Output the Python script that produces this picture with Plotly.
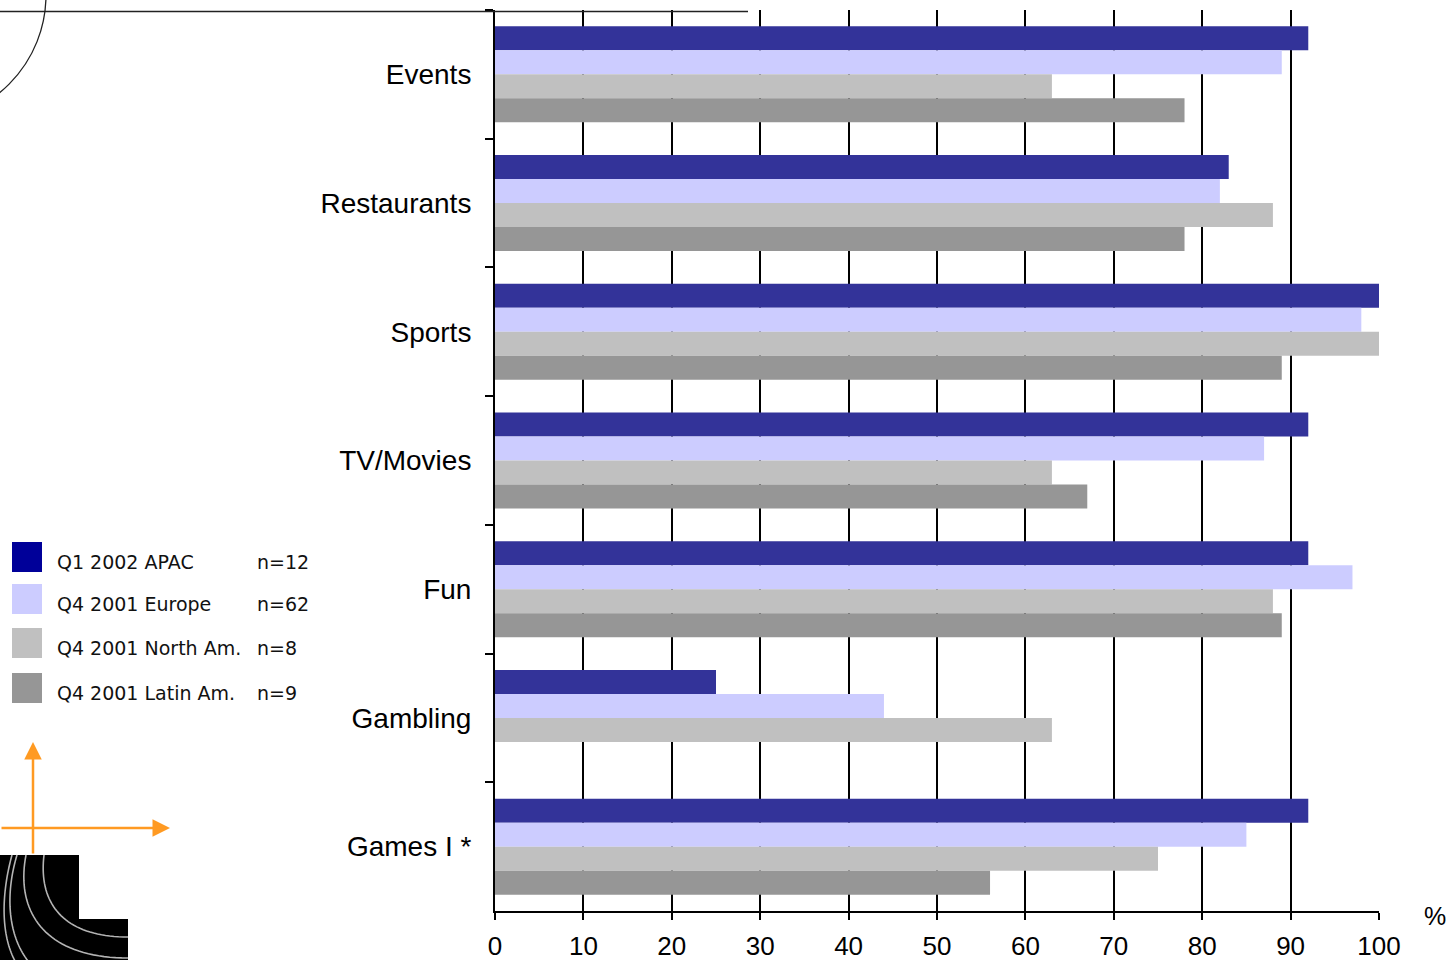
import numpy as np
import plotly.graph_objects as go

# ---- data -------------------------------------------------------------
categories = ["Events", "Restaurants", "Sports", "TV/Movies", "Fun", "Gambling", "Games I *"]

series_names = ["Q1 2002 APAC", "Q4 2001 Europe", "Q4 2001 North Am.", "Q4 2001 Latin Am."]
sample_sizes = ["n=12", "n=62", "n=8", "n=9"]

apac_q1_2002 = [92, 83, 100, 92, 92, 25, 92]
europe_q4_2001 = [89, 82, 98, 87, 97, 44, 85]
north_am_q4_2001 = [63, 88, 100, 63, 88, 63, 75]
latin_am_q4_2001 = [78, 78, 89, 67, 89, None, 56]

x_ticks = [0, 10, 20, 30, 40, 50, 60, 70, 80, 90, 100]

# ---- styling ----------------------------------------------------------
bar_colors = ["#333399", "#CCCCFF", "#C0C0C0", "#969696"]
legend_colors = ["#000099", "#CCCCFF", "#C0C0C0", "#969696"]
SANS = "Liberation Sans, Arial, sans-serif"
LEGEND_FONT = "DejaVu Sans, Verdana, sans-serif"

W, H = 1452, 960
L, R, T, B = 495, 1379, 10, 911


def px_x(px):
    return (px - L) / (R - L)


def px_y(py):
    return (B - py) / (B - T)


fig = go.Figure()
for name, vals, col in zip(series_names,
                           [apac_q1_2002, europe_q4_2001, north_am_q4_2001, latin_am_q4_2001],
                           bar_colors):
    fig.add_trace(go.Bar(
        y=categories, x=vals, name=name, orientation="h",
        marker=dict(color=col, line=dict(width=0)),
        hoverinfo="x+y+name",
    ))

shapes = []
annotations = []

# legend block: swatches + labels
legend_rows = [557, 599, 643, 688]
for i, (name, n, col) in enumerate(zip(series_names, sample_sizes, legend_colors)):
    cy = legend_rows[i]
    shapes.append(dict(type="rect", xref="paper", yref="paper",
                       x0=px_x(12), x1=px_x(42), y0=px_y(cy - 15), y1=px_y(cy + 15),
                       fillcolor=col, line=dict(width=0), layer="above"))
    annotations.append(dict(xref="paper", yref="paper", x=px_x(55), y=px_y(cy + 5),
                            text=name, showarrow=False, xanchor="left", yanchor="middle",
                            font=dict(family=LEGEND_FONT, size=19, color="#111111")))
    annotations.append(dict(xref="paper", yref="paper", x=px_x(255), y=px_y(cy + 5),
                            text=n, showarrow=False, xanchor="left", yanchor="middle",
                            font=dict(family=LEGEND_FONT, size=19, color="#111111")))

# "%" unit label at the end of the value axis
annotations.append(dict(xref="paper", yref="paper", x=px_x(1435), y=px_y(916),
                        text="%", showarrow=False, xanchor="center", yanchor="middle",
                        font=dict(family=SANS, size=25, color="black")))

# header rule and arc in the upper left corner
shapes.append(dict(type="line", xref="paper", yref="paper",
                   x0=px_x(0), x1=px_x(748), y0=px_y(11.5), y1=px_y(11.5),
                   line=dict(color="#222222", width=1.5), layer="above"))
arc_cx, arc_cy, arc_r = -80, -5, 126
shapes.append(dict(type="circle", xref="paper", yref="paper",
                   x0=px_x(arc_cx - arc_r), x1=px_x(arc_cx + arc_r),
                   y0=px_y(arc_cy + arc_r), y1=px_y(arc_cy - arc_r),
                   line=dict(color="#222222", width=1.3), layer="above"))

# orange axis-cross icon
orange = "#FF9A22"
annotations.append(dict(xref="paper", yref="paper", x=px_x(33), y=px_y(742),
                        ax=0, ay=113, text="", showarrow=True, arrowhead=2,
                        arrowsize=1.4, arrowwidth=2.5, arrowcolor=orange))
annotations.append(dict(xref="paper", yref="paper", x=px_x(170), y=px_y(828),
                        ax=-172, ay=0, text="", showarrow=True, arrowhead=2,
                        arrowsize=1.4, arrowwidth=2.5, arrowcolor=orange))

# black corner logo with gray arcs
def pth(points):
    s = ""
    for k, (a, b) in enumerate(points):
        s += ("M" if k == 0 else " L") + f" {px_x(a):.5f},{px_y(b):.5f}"
    return s + " Z"


shapes.append(dict(type="path", xref="paper", yref="paper",
                   path=pth([(0, 855), (79, 855), (79, 919), (128, 919), (128, 962), (0, 962)]),
                   fillcolor="black", line=dict(width=0), layer="above"))


def bez(p0, p1, p2, p3):
    t = np.linspace(0, 1, 40)[:, None]
    pts = ((1 - t) ** 3) * np.array(p0) + 3 * ((1 - t) ** 2) * t * np.array(p1) \
        + 3 * (1 - t) * t ** 2 * np.array(p2) + t ** 3 * np.array(p3)
    s = ""
    for k, (a, b) in enumerate(pts):
        s += ("M" if k == 0 else " L") + f" {px_x(a):.5f},{px_y(b):.5f}"
    return s


logo_arcs = [
    ((44, 855), (38, 905), (65, 937), (128, 937)),
    ((26, 855), (15, 912), (45, 958), (128, 958)),
    ((17, 855), (5, 895), (8, 935), (28, 961)),
    ((12, 855), (1, 895), (1, 935), (15, 961)),
]
for a in logo_arcs:
    shapes.append(dict(type="path", xref="paper", yref="paper", path=bez(*a),
                       line=dict(color="#B4B4B4", width=1.6), layer="above"))

fig.update_layout(
    width=W, height=H,
    margin=dict(l=L, r=W - R, t=T, b=H - B, pad=0, autoexpand=False),
    paper_bgcolor="white", plot_bgcolor="white",
    barmode="group", bargap=0.254, bargroupgap=0,
    showlegend=False,
    shapes=shapes, annotations=annotations,
    xaxis=dict(
        range=[0, 100], tickvals=x_ticks, ticktext=[str(v) for v in x_ticks],
        showgrid=True, gridcolor="black", gridwidth=2,
        zeroline=False, showline=True, linecolor="black", linewidth=2,
        ticks="outside", ticklen=7, tickwidth=2, tickcolor="black",
        ticklabelstandoff=4, automargin=False,
        tickfont=dict(family=SANS, size=26, color="black"),
    ),
    yaxis=dict(
        categoryorder="array", categoryarray=categories, autorange="reversed",
        showgrid=False, zeroline=False, showline=True, linecolor="black", linewidth=2,
        ticks="outside", ticklen=8, tickwidth=2, tickcolor="black",
        tickson="boundaries", ticklabelstandoff=16, automargin=False,
        tickfont=dict(family=SANS, size=28, color="black"),
    ),
)

fig.write_html("out.html")
